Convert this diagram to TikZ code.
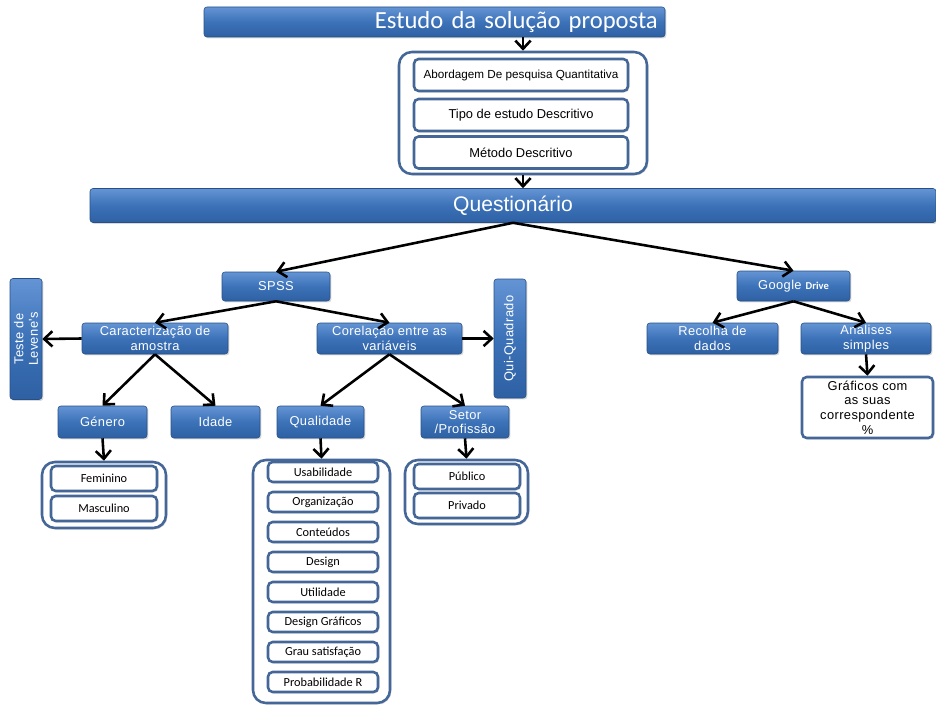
\documentclass[tikz,border=0pt]{standalone}
\usepackage{fontspec}
\setmainfont{Liberation Sans}
\newfontfamily\calib{Carlito}
\newfontfamily\spaced[LetterSpace=3]{Liberation Sans}
\usetikzlibrary{arrows.meta,shadows}
\definecolor{blueT}{RGB}{100,148,212}
\definecolor{blueM}{RGB}{60,114,184}
\definecolor{blueB}{RGB}{46,96,163}
\definecolor{blueD}{RGB}{40,80,135}
\definecolor{frame}{RGB}{68,103,152}
\begin{document}
\begin{tikzpicture}[x=0.03cm,y=-0.03cm,
 sz/.style 2 args={minimum width=#1*0.03cm,minimum height=#2*0.03cm},
 shd/.style={drop shadow={opacity=0.3,shadow xshift=1.2pt,shadow yshift=-1.2pt}},
 bluebox/.style={shd,draw=blueD,line width=0.5pt,rounded corners=2.5pt,top color=blueT,bottom color=blueB,middle color=blueM,text=white,align=center,inner sep=1pt,font=\spaced\fontsize{11}{12.5}\selectfont},
 bar/.style={bluebox,font=\fontsize{18}{20}\selectfont},
 wbox/.style={shd,draw=frame,line width=2.2pt,fill=white,rounded corners=4pt,inner sep=1pt,align=center,font=\fontsize{11}{13}\selectfont},
 small/.style={font=\calib\fontsize{10.5}{12}\selectfont},
 grp/.style={shd,draw=frame,line width=2.2pt,fill=white,rounded corners=11pt},
 arr/.style={-{Straight Barb[length=7pt,width=13pt]},line width=2.2pt}
]
\useasboundingbox (0,0) rectangle (936,705);

% top of the plan
\node[bar,sz={461}{30},text width=13.4cm,align=right,font=\calib\fontsize{21}{23}\selectfont] (estudo) at (434.5,22) {Estudo da solução proposta};
\node[grp,sz={248}{122}] (metgrp) at (523,113) {};
\node[wbox,sz={214}{32},font=\fontsize{10}{12}\selectfont] (abord) at (521,75) {Abordagem De pesquisa Quantitativa};
\node[wbox,sz={214}{32}] (tipo) at (521,115) {Tipo de estudo Descritivo};
\node[wbox,sz={214}{32}] (metodo) at (521,152.5) {Método Descritivo};
\node[bar,sz={846}{34}] (quest) at (513,205.5) {Questionário};

% SPSS branch
\node[bluebox,sz={108}{29}] (spss) at (276,286.5) {SPSS};
\node[bluebox,sz={121}{32},rotate=90] (levene) at (26,339) {Teste de\\Levene's};
\node[bluebox,sz={146}{31}] (carac) at (155,338.5) {Caracterização de\\amostra};
\node[bluebox,sz={145}{31}] (corel) at (389.5,338.5) {Corelação entre as\\variáveis};
\node[bluebox,sz={119}{32},rotate=90] (qui) at (510,338.5) {Qui-Quadrado};
\node[bluebox,sz={89}{32}] (genero) at (102.5,422) {Género};
\node[bluebox,sz={89}{32}] (idade) at (215.5,422) {Idade};
\node[bluebox,sz={87}{32}] (qualid) at (320.5,422) {Qualidade};
\node[bluebox,sz={88}{32}] (setor) at (465,422) {Setor\\/Profissão};

\node[grp,sz={124}{66}] (gengrp) at (104,495) {};
\node[wbox,small,sz={106}{25}] (fem) at (104,478.5) {Feminino};
\node[wbox,small,sz={106}{25}] (masc) at (104,508.5) {Masculino};

\node[grp,sz={137}{243}] (qualgrp) at (321.5,581.5) {};
\foreach \lbl [count=\k] in {Usabilidade,Organização,Conteúdos,Design,Utilidade,Design Gráficos,Grau satisfação,Probabilidade R}
  \node[wbox,small,sz={110}{20}] (q\k) at (323,442+30*\k) {\lbl};

\node[grp,sz={123}{64}] (setgrp) at (466.5,492) {};
\node[wbox,small,sz={106}{25}] (pub) at (467,476.5) {Público};
\node[wbox,small,sz={106}{25}] (priv) at (467,505.5) {Privado};

% Google Drive branch
\node[bluebox,sz={113}{30}] (google) at (793.5,286) {Google {\calib\bfseries\fontsize{9}{10}\selectfont Drive}};
\node[bluebox,sz={131}{31}] (recolha) at (712.5,338.5) {Recolha de\\dados};
\node[bluebox,sz={130}{31}] (analise) at (866,338.5) {Analises\\simples};
\node[wbox,sz={131}{61},font=\spaced\fontsize{11}{12.5}\selectfont] (graf) at (867.5,407.5) {Gráficos com\\as suas\\correspondente\\\%};

% arrows
\draw[arr] (estudo.south -| metgrp.north) -- (metgrp.north);
\draw[arr] (metgrp.south) -- (metgrp.south |- quest.north);
\draw[arr] (quest.south) -- (spss.north);
\draw[arr] (quest.south) -- (google.north);
\draw[arr] (spss.south) -- (carac.north);
\draw[arr] (spss.south) -- (corel.north);
\draw[arr] (carac.west) -- (levene.south);
\draw[arr] (corel.east) -- (qui.north);
\draw[arr] (carac.south) -- (genero.north);
\draw[arr] (carac.south) -- (idade.north);
\draw[arr] (corel.south) -- (qualid.north);
\draw[arr] (corel.south) -- (setor.north);
\draw[arr] (genero.south) -- (gengrp.north);
\draw[arr] (qualid.south) -- (qualgrp.north);
\draw[arr] (setor.south) -- (setgrp.north);
\draw[arr] (google.south) -- (recolha.north);
\draw[arr] (google.south) -- (analise.north);
\draw[arr] (analise.south) -- (graf.north);
\end{tikzpicture}
\end{document}
